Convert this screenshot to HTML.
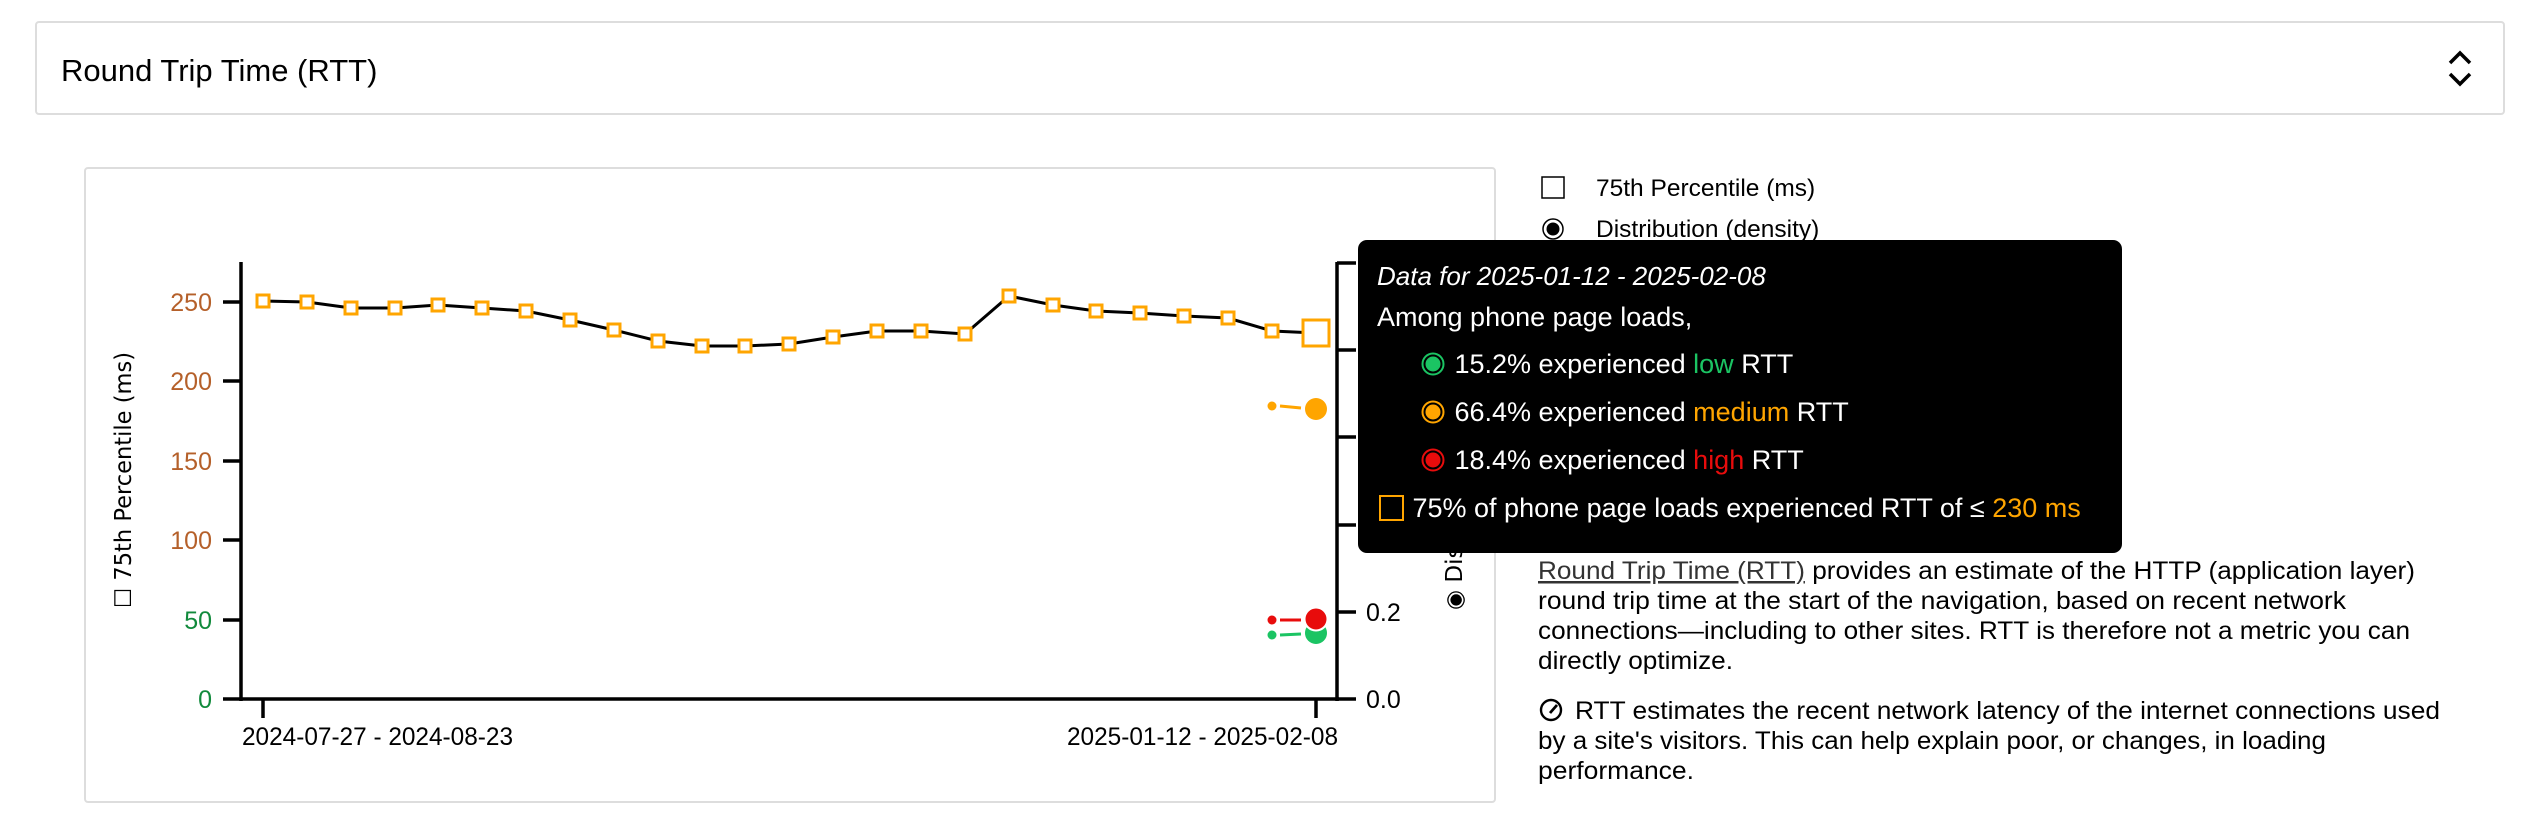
<!DOCTYPE html>
<html><head><meta charset="utf-8"><style>
html,body{margin:0;padding:0;background:#fff;width:2540px;height:836px;overflow:hidden;font-family:"Liberation Sans",Arial,sans-serif;color:#000}
.hdr{position:absolute;left:35px;top:21px;width:2470px;height:94px;border:2px solid #ddd;border-radius:4px;box-sizing:border-box}
.hdr .t{position:absolute;left:24px;top:30px;font-size:31px}
.card{position:absolute;left:84px;top:167px;width:1412px;height:636px;border:2px solid #ddd;border-radius:4px;box-sizing:border-box}
.tip{position:absolute;left:1358px;top:240px;width:764px;height:313px;background:#000;border-radius:9px;color:#fff;font-size:27px;white-space:nowrap}
.tip div{position:absolute}
</style></head><body>
<div class="hdr"><div class="t">Round Trip Time (RTT)</div></div>
<div class="card"></div>
<svg style="position:absolute;left:0;top:0" width="2540" height="836">
<path d="M2450 63 L2460 53 L2470 63 M2450 74 L2460 84 L2470 74" fill="none" stroke="#000" stroke-width="3.5"/>
<g stroke="#000" stroke-width="3.5" fill="none">
<line x1="241" y1="262" x2="241" y2="701"/>
<line x1="223" y1="699" x2="1339" y2="699"/>
<line x1="1337" y1="262" x2="1337" y2="701"/>
<line x1="223" y1="302" x2="241" y2="302"/><line x1="223" y1="381" x2="241" y2="381"/><line x1="223" y1="461" x2="241" y2="461"/><line x1="223" y1="540" x2="241" y2="540"/><line x1="223" y1="620" x2="241" y2="620"/>
<line x1="263" y1="699" x2="263" y2="718"/><line x1="1316" y1="699" x2="1316" y2="718"/>
<line x1="1337" y1="263" x2="1356" y2="263"/><line x1="1337" y1="350" x2="1356" y2="350"/><line x1="1337" y1="437" x2="1356" y2="437"/><line x1="1337" y1="525" x2="1356" y2="525"/><line x1="1337" y1="612" x2="1356" y2="612"/><line x1="1337" y1="699" x2="1356" y2="699"/>
</g>
<g font-size="25" text-anchor="end" fill="#b5602a">
<text x="212" y="311">250</text><text x="212" y="390">200</text><text x="212" y="470">150</text><text x="212" y="549">100</text>
<text x="212" y="629" fill="#118a3c">50</text><text x="212" y="708" fill="#118a3c">0</text></g>
<g font-size="25"><text x="1366" y="621">0.2</text><text x="1366" y="708">0.0</text>
<text x="242" y="745" textLength="271" lengthAdjust="spacingAndGlyphs">2024-07-27 - 2024-08-23</text><text x="1067" y="745" textLength="271" lengthAdjust="spacingAndGlyphs">2025-01-12 - 2025-02-08</text></g>
<text transform="translate(131,480) rotate(-90)" text-anchor="middle" font-family="DejaVu Sans, sans-serif" font-size="23" textLength="256" lengthAdjust="spacingAndGlyphs">☐ 75th Percentile (ms)</text>
<text transform="translate(1462,610) rotate(-90)" font-family="DejaVu Sans, sans-serif" font-size="23">◉ Distribution (density)</text>
<polyline fill="none" stroke="#000" stroke-width="3" points="263,301 307,302 351,308 395,308 438,305 482,308 526,311 570,320 614,330 658,341 702,346 745,346 789,344 833,337 877,331 921,331 965,334 1009,296 1053,305 1096,311 1140,313 1184,316 1228,318 1272,331 1316,333"/>
<g fill="#fff" stroke="#ffa500" stroke-width="3">
<rect x="257" y="295" width="12" height="12"/><rect x="301" y="296" width="12" height="12"/><rect x="345" y="302" width="12" height="12"/><rect x="389" y="302" width="12" height="12"/><rect x="432" y="299" width="12" height="12"/><rect x="476" y="302" width="12" height="12"/><rect x="520" y="305" width="12" height="12"/><rect x="564" y="314" width="12" height="12"/><rect x="608" y="324" width="12" height="12"/><rect x="652" y="335" width="12" height="12"/><rect x="696" y="340" width="12" height="12"/><rect x="739" y="340" width="12" height="12"/><rect x="783" y="338" width="12" height="12"/><rect x="827" y="331" width="12" height="12"/><rect x="871" y="325" width="12" height="12"/><rect x="915" y="325" width="12" height="12"/><rect x="959" y="328" width="12" height="12"/><rect x="1003" y="290" width="12" height="12"/><rect x="1047" y="299" width="12" height="12"/><rect x="1090" y="305" width="12" height="12"/><rect x="1134" y="307" width="12" height="12"/><rect x="1178" y="310" width="12" height="12"/><rect x="1222" y="312" width="12" height="12"/><rect x="1266" y="325" width="12" height="12"/>
<rect x="1303" y="320" width="26" height="26"/></g>
<g stroke-width="3">
<line x1="1280" y1="406" x2="1301" y2="408" stroke="#ffa500"/><circle cx="1272" cy="406" r="4.5" fill="#ffa500"/><circle cx="1316" cy="409" r="11" fill="#ffa500"/>
<line x1="1280" y1="635" x2="1301" y2="634" stroke="#1bc463"/><circle cx="1272" cy="635" r="4.5" fill="#1bc463"/><circle cx="1316" cy="633" r="11" fill="#1bc463"/>
<line x1="1280" y1="620" x2="1301" y2="620" stroke="#e80c0c"/><circle cx="1272" cy="620" r="4.5" fill="#e80c0c"/><circle cx="1316" cy="619" r="11.5" fill="#e80c0c" stroke="#fff" stroke-width="2"/>
</g>
<rect x="1542" y="177" width="22" height="21" fill="#fff" stroke="#000" stroke-width="1.5"/>
<text x="1596" y="196" font-size="24.5">75th Percentile (ms)</text>
<circle cx="1553" cy="229" r="10" fill="#fff" stroke="#000" stroke-width="1.5"/><circle cx="1553" cy="229" r="6.5" fill="#000"/>
<text x="1596" y="237" font-size="24.5">Distribution (density)</text>
<g font-size="25">
<text x="1538" y="579" textLength="877" lengthAdjust="spacingAndGlyphs"><tspan fill="#333" text-decoration="underline">Round Trip Time (RTT)</tspan> provides an estimate of the HTTP (application layer)</text>
<text x="1538" y="609" textLength="808" lengthAdjust="spacingAndGlyphs">round trip time at the start of the navigation, based on recent network</text>
<text x="1538" y="639" textLength="872" lengthAdjust="spacingAndGlyphs">connections—including to other sites. RTT is therefore not a metric you can</text>
<text x="1538" y="669" textLength="195" lengthAdjust="spacingAndGlyphs">directly optimize.</text>
<g transform="translate(1551,710)"><circle r="10" fill="none" stroke="#000" stroke-width="2.4"/><line x1="-1" y1="3" x2="6" y2="-5" stroke="#000" stroke-width="2.8"/></g>
<text x="1575" y="719" textLength="865" lengthAdjust="spacingAndGlyphs">RTT estimates the recent network latency of the internet connections used</text>
<text x="1538" y="749" textLength="788" lengthAdjust="spacingAndGlyphs">by a site's visitors. This can help explain poor, or changes, in loading</text>
<text x="1538" y="779" textLength="156" lengthAdjust="spacingAndGlyphs">performance.</text>
</g>
</svg>
<div class="tip">
<div style="left:19px;top:21px;font-style:italic;font-size:26px">Data for 2025-01-12 - 2025-02-08</div>
<div style="left:19px;top:62px">Among phone page loads,</div>
<div style="left:63px;top:109px"><svg width="26" height="26" style="vertical-align:-4px"><circle cx="12" cy="13" r="10.5" fill="none" stroke="#1bc463" stroke-width="2"/><circle cx="12" cy="13" r="7.5" fill="#1bc463"/></svg> 15.2% experienced <span style="color:#1bc463">low</span> RTT</div>
<div style="left:63px;top:157px"><svg width="26" height="26" style="vertical-align:-4px"><circle cx="12" cy="13" r="10.5" fill="none" stroke="#ffa500" stroke-width="2"/><circle cx="12" cy="13" r="7.5" fill="#ffa500"/></svg> 66.4% experienced <span style="color:#ffa500">medium</span> RTT</div>
<div style="left:63px;top:205px"><svg width="26" height="26" style="vertical-align:-4px"><circle cx="12" cy="13" r="10.5" fill="none" stroke="#e80c0c" stroke-width="2"/><circle cx="12" cy="13" r="7.5" fill="#e80c0c"/></svg> 18.4% experienced <span style="color:#e80c0c">high</span> RTT</div>
<div style="left:21px;top:253px"><svg width="26" height="26" style="vertical-align:-4px"><rect x="1" y="1" width="23" height="24" fill="none" stroke="#ffa500" stroke-width="2"/></svg> 75% of phone page loads experienced RTT of ≤ <span style="color:#ffa500">230 ms</span></div>
</div>
</body></html>
